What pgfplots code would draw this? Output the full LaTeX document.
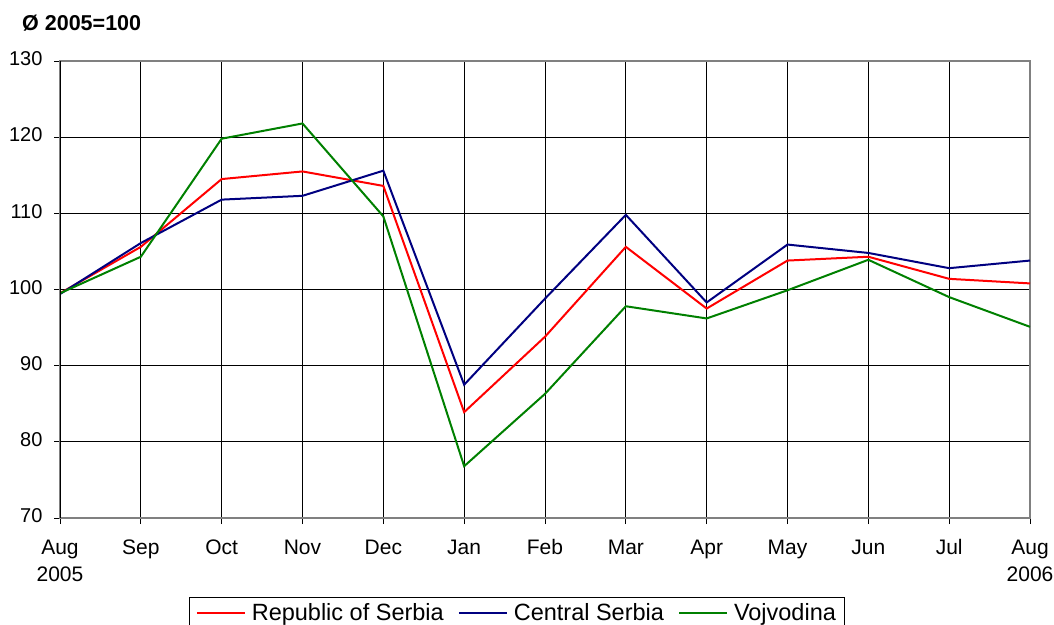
\documentclass[border=0pt]{standalone}
\usepackage{fontspec}
\setmainfont{Liberation Sans}
\usepackage{pgfplots}
\usepackage{pgfplotstable}
\pgfplotsset{compat=1.18}
\definecolor{serred}{RGB}{255,0,0}
\definecolor{sernavy}{RGB}{0,0,128}
\definecolor{sergreen}{RGB}{0,128,0}
\pgfplotstableread{
x rs cs vo
0  99.5  99.4  99.5
1  105.6 106.1 104.3
2  114.5 111.8 119.8
3  115.5 112.3 121.8
4  113.6 115.6 109.6
5  83.9  87.5  76.8
6  93.8  98.8  86.3
7  105.6 109.8 97.8
8  97.5  98.3  96.2
9  103.8 105.9 99.9
10 104.3 104.8 103.9
11 101.4 102.8 99.0
12 100.8 103.8 95.1
}\data
\begin{document}
\begin{tikzpicture}
\useasboundingbox (-60bp,-107bp) rectangle (994bp,518bp);
\begin{axis}[
  at={(0,0)}, anchor=south west,
  scale only axis, width=970bp, height=457bp,
  xmin=0, xmax=12, ymin=70, ymax=130,
  xtick={0,...,12},
  xticklabels={{Aug\\2005},Sep,Oct,Nov,Dec,Jan,Feb,Mar,Apr,May,Jun,Jul,{Aug\\2006}},
  ytick={70,80,...,130},
  /pgf/number format/assume math mode=true,
  grid=major,
  major grid style={black, line width=0.8bp},
  axis line style={gray, line width=1.5bp},
  tick align=outside, xtick pos=left, ytick pos=left,
  major tick length=6bp,
  tick style={black, line width=0.8bp},
  typeset ticklabels with strut,
  xticklabel style={align=center, font=\fontsize{21bp}{27bp}\selectfont, yshift=-8bp},
  yticklabel style={font=\fontsize{20bp}{24bp}\selectfont, xshift=-8bp},
  legend columns=3,
  legend style={at={(0.471,-0.1729)}, anchor=north, draw=black, line width=0.8bp,
    font=\fontsize{23.5bp}{26bp}\selectfont, inner xsep=6bp, inner ysep=4bp,
    /tikz/every even column/.append style={column sep=12bp},
    /tikz/every odd column/.append style={column sep=4bp}},
  legend image code/.code={\draw[#1, line width=2bp] (0bp,0bp) -- (48bp,0bp);},
]
\addplot[serred, line width=2bp] table[x=x,y=rs] {\data};
\addlegendentry{Republic of Serbia}
\addplot[sernavy, line width=2bp] table[x=x,y=cs] {\data};
\addlegendentry{Central Serbia}
\addplot[sergreen, line width=2bp] table[x=x,y=vo] {\data};
\addlegendentry{Vojvodina}
\draw[black, line width=1.2bp] (rel axis cs:0,0) -- (rel axis cs:0,1);
\end{axis}
\node[anchor=base west, inner sep=0pt, font=\bfseries\fontsize{21.5bp}{24bp}\selectfont] at (-38bp,487.5bp) {Ø 2005=100};
\end{tikzpicture}
\end{document}
